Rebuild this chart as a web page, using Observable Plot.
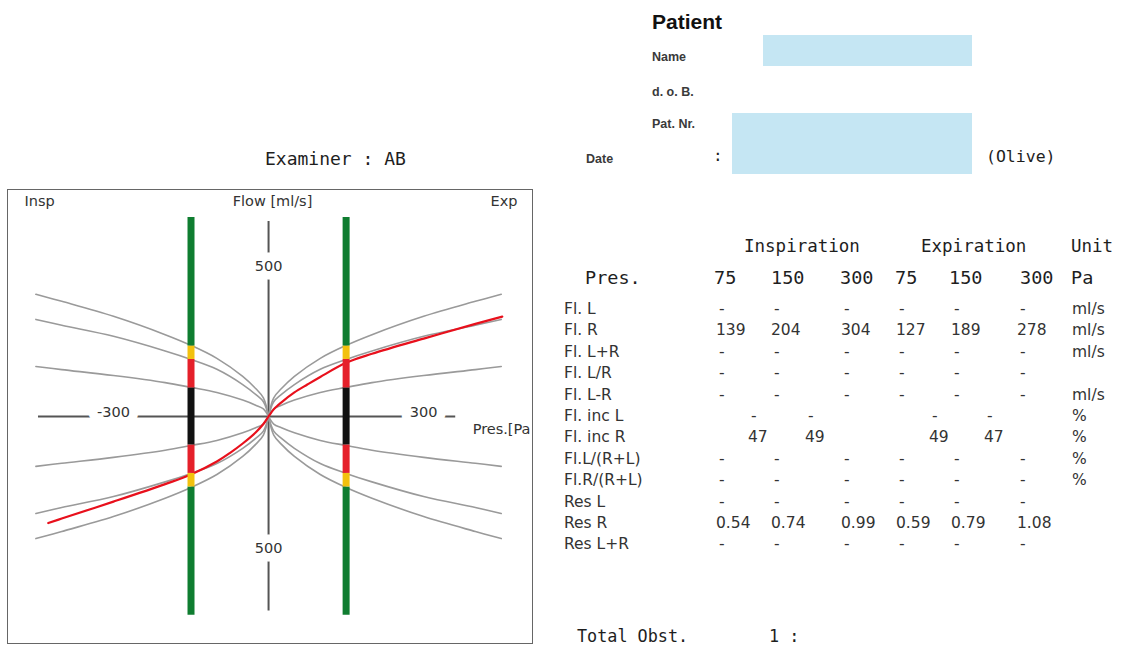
<!DOCTYPE html>
<html><head><meta charset="utf-8">
<script src="https://cdn.jsdelivr.net/npm/d3@7"></script>
<script src="https://cdn.jsdelivr.net/npm/@observablehq/plot@0.6"></script>
<style>
html,body{margin:0;padding:0;background:#fff;}
#page{position:relative;width:1123px;height:648px;overflow:hidden;background:#fff;}
.t{position:absolute;white-space:nowrap;line-height:1;transform:translateY(-50%);}
.mono{font-family:"DejaVu Sans Mono",monospace;color:#1e1e1e;}
.small{font-family:"Liberation Sans",Arial,sans-serif;font-weight:bold;font-size:12.5px;color:#3a3a3a;}
.sans{font-family:"DejaVu Sans",sans-serif;color:#333;font-size:15.5px;}
.box{position:absolute;background:#c5e6f3;}
#chart{position:absolute;left:8px;top:190px;}
</style></head><body><div id="page"><div id="chart"></div></div>
<script>
// ---- Chart data ----
// Reference resistance curves: pressure [Pa] -> flow [ml/s] (first quadrant, mirrored to the others)
const refPressure = [0, 10, 25, 50, 100, 150, 200, 300, 400, 450];
const refFlowA = [0, 66, 99, 142, 206, 252, 290, 355, 408, 433];
const refFlowB = [0, 52, 78, 113, 167, 202, 232, 284, 323, 344];
const refFlowC = [0, 27, 40, 58, 85, 103, 120, 145, 166, 177];
// Measured curve
const measExpPressure = [0, 10, 25, 50, 75, 100, 150, 200, 300, 400, 452];
const measExpFlow = [0, 25, 50, 85, 113, 140, 190, 222, 276, 328, 354];
const measInspPressure = [0, -10, -25, -50, -75, -100, -150, -200, -300, -400, -426];
const measInspFlow = [0, -27, -57, -96, -130, -160, -206, -240, -302, -362, -378];
// Classification bars at +/-150 Pa
const barPressures = [-150, 150];
const barBounds = [-705, -250, -202, -101, 101, 202, 250, 705];
const barColors = ["#0f7d30", "#f2c10e", "#e5202a", "#111111", "#e5202a", "#f2c10e", "#0f7d30"];
// Axes
const xAxisExtent = [-445, 362];
const yAxisExtent = [-690, 691];
const xTickValues = [-300, 300];
const yTickValues = [500, -500];

// ---- Table data ----
const headerGroups = ["Inspiration", "Expiration", "Unit"];
const pressureLabels = ["75", "150", "300", "75", "150", "300"];
const rowLabels = ["Fl. L", "Fl. R", "Fl. L+R", "Fl. L/R", "Fl. L-R", "Fl. inc L", "Fl. inc R",
  "Fl.L/(R+L)", "Fl.R/(R+L)", "Res L", "Res R", "Res L+R"];
const rowUnits = ["ml/s", "ml/s", "ml/s", "", "ml/s", "%", "%", "%", "%", "", "", ""];
const flR = [139, 204, 304, 127, 189, 278];
const flIncR = [47, 49, 49, 47];
const resR = [0.54, 0.74, 0.99, 0.59, 0.79, 1.08];

// ---- Chart ----
const refData = [];
[["A", refFlowA], ["B", refFlowB], ["C", refFlowC]].forEach(([name, flows]) => {
  for (const sx of [-1, 1]) for (const sy of [-1, 1]) {
    refPressure.forEach((p, i) => refData.push({curve: name + sx + sy, p: sx * p, f: sy * flows[i]}));
  }
});
const measData = measInspPressure.map((p, i) => ({p, f: measInspFlow[i]})).reverse()
  .concat(measExpPressure.slice(1).map((p, i) => ({p, f: measExpFlow[i + 1]})));
const barData = [];
barPressures.forEach(p => barColors.forEach((c, i) => barData.push({p, f1: barBounds[i], f2: barBounds[i + 1], c})));

const axisColor = "#555";
const chart = Plot.plot({
  width: 524, height: 453,
  marginTop: 0, marginRight: 0, marginBottom: 0, marginLeft: 0,
  x: {domain: [-503, 510.5], range: [0, 524], axis: null},
  y: {domain: [-805, 801], range: [453, 0], axis: null},
  color: {type: "identity"},
  style: {fontFamily: "DejaVu Sans", fontSize: "14.5px", color: "#333", background: "white", overflow: "hidden"},
  marks: [
    Plot.ruleY([0], {x1: xAxisExtent[0], x2: xAxisExtent[1], stroke: axisColor, strokeWidth: 2}),
    Plot.ruleX([0], {y1: yAxisExtent[0], y2: yAxisExtent[1], stroke: axisColor, strokeWidth: 2}),
    Plot.line(refData, {x: "p", y: "f", z: "curve", stroke: "#9a9a9a", strokeWidth: 1.6, curve: "catmull-rom"}),
    Plot.line(measData, {x: "p", y: "f", stroke: "#e8101c", strokeWidth: 2.2, curve: "catmull-rom"}),
    Plot.ruleX(barData, {x: "p", y1: "f1", y2: "f2", stroke: "c", strokeWidth: 7}),
    Plot.text(xTickValues, {x: d => d, y: 0, text: d => String(d), dy: -4, fill: "#333", stroke: "white", strokeWidth: 18}),
    Plot.text(yTickValues, {x: 0, y: d => d, text: d => String(Math.abs(d)), dy: -9, fill: "#333", stroke: "white", strokeWidth: 17}),
    Plot.text(["Insp"], {frameAnchor: "top-left", dx: 16, dy: 5, fill: "#333"}),
    Plot.text(["Flow [ml/s]"], {frameAnchor: "top", dx: 2, dy: 5, fill: "#333"}),
    Plot.text(["Exp"], {frameAnchor: "top-right", dx: -15, dy: 5, fill: "#333"}),
    Plot.text(["Pres.[Pa"], {frameAnchor: "right", textAnchor: "end", dx: -2, dy: 12.5, fill: "#333"})
  ]
});
chart.style.outline = "1.6px solid #666";
document.getElementById("chart").appendChild(chart);

// ---- Report text ----
const page = document.getElementById("page");
function put(text, x, y, cls, style) {
  const d = document.createElement("div");
  d.className = "t " + cls;
  d.textContent = text;
  d.style.left = x + "px";
  d.style.top = y + "px";
  if (style) Object.assign(d.style, style);
  page.appendChild(d);
  return d;
}
function box(x, y, w, h) {
  const d = document.createElement("div");
  d.className = "box";
  Object.assign(d.style, {left: x + "px", top: y + "px", width: w + "px", height: h + "px"});
  page.appendChild(d);
}
box(763, 35, 209, 31);
box(732, 113, 240, 61);
put("Patient", 652, 21, "", {fontFamily: "Liberation Sans, Arial, sans-serif", fontWeight: "bold", fontSize: "21px", color: "#111"});
put("Name", 652, 57, "small");
put("d. o. B.", 652, 92, "small");
put("Pat. Nr.", 652, 124, "small");
put("Date", 586, 159, "small");
put(":", 713, 156, "mono", {fontSize: "16px"});
put("(Olive)", 986, 157, "mono", {fontSize: "16.5px"});
put("Examiner : AB", 265, 158.5, "mono", {fontSize: "18px"});
put("Total Obst.", 577, 636, "mono", {fontSize: "16.8px"});
put("1 :", 769, 636, "mono", {fontSize: "16.8px"});

// header rows
const groupX = [744, 921, 1071];
headerGroups.forEach((g, i) => put(g, groupX[i], 247, "mono", {fontSize: "17.5px"}));
put("Pres.", 585, 278, "mono", {fontSize: "18.5px"});
const pressX = [714, 771, 840, 895, 949, 1020];
pressureLabels.forEach((p, i) => put(p, pressX[i], 278, "mono", {fontSize: "18.5px"}));
put("Pa", 1071, 278, "mono", {fontSize: "18.5px"});

// data rows
const colX = [716, 771, 841, 896, 951, 1017];
const incColX = [748, 805, 929, 984];
const rowY0 = 310, rowStep = 21.4;
const six = d => [d, d, d, d, d, d];
const rowValues = [
  six("-"), flR.map(String), six("-"), six("-"), six("-"),
  ["-", "-", "-", "-"], flIncR.map(String),
  six("-"), six("-"), six("-"), resR.map(v => v.toFixed(2)), six("-")
];
rowLabels.forEach((lab, r) => {
  const y = rowY0 + r * rowStep;
  put(lab, 564, y, "sans");
  const vals = rowValues[r];
  const xs = vals.length === 4 ? incColX : colX;
  vals.forEach((v, i) => put(v, xs[i] + (v === "-" ? 3 : 0), y, "sans"));
  if (rowUnits[r]) put(rowUnits[r], 1072, y, "sans");
});
</script></body></html>
